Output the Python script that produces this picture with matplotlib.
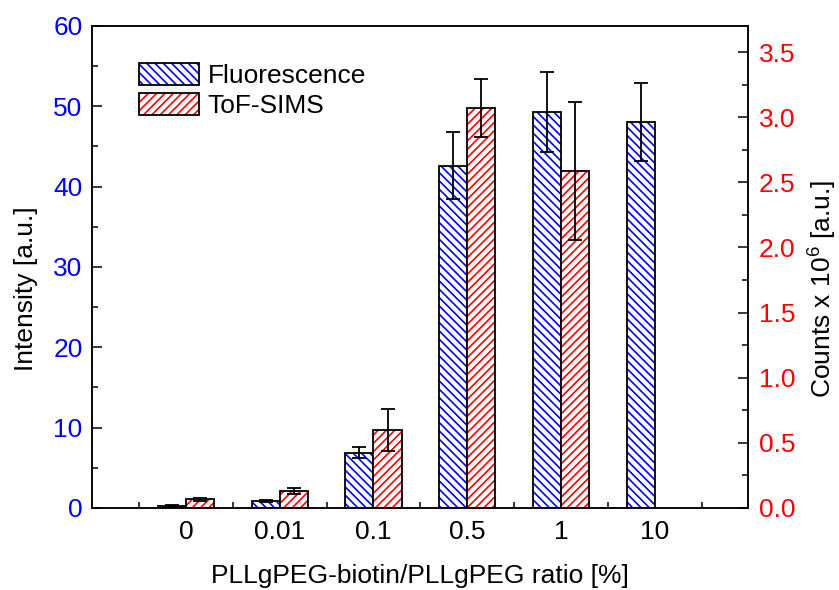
import matplotlib
matplotlib.use("Agg")
import matplotlib.pyplot as plt
import numpy as np
from matplotlib.patches import Patch
from matplotlib.legend_handler import HandlerTuple

plt.rcParams['font.family'] = ['Liberation Sans', 'DejaVu Sans']
plt.rcParams['hatch.linewidth'] = 1.2
plt.rcParams['mathtext.fontset'] = 'custom'
plt.rcParams['mathtext.rm'] = 'Liberation Sans'

categories = ['0', '0.01', '0.1', '0.5', '1', '10']
fluor = [0.3, 0.85, 6.9, 42.6, 49.3, 48.1]
fluor_err = [0.1, 0.1, 0.67, 4.2, 4.95, 4.85]
tof = [0.067, 0.128, 0.599, 3.07, 2.59, np.nan]
tof_err = [0.01, 0.023, 0.16, 0.225, 0.53, np.nan]

FS = 19

fig = plt.figure(figsize=(8.39, 5.90), dpi=100)
ax1 = fig.add_axes([0.110, 0.139, 0.782, 0.817])
ax2 = ax1.twinx()

x = np.arange(1, len(categories) + 1)
w = 0.3
blue = '#0000ff'
red = '#ff0000'

# Fluorescence bars (left axis)
ax1.bar(x - w / 2, fluor, width=w, color='white', edgecolor=blue, hatch='\\\\\\\\', linewidth=0)
ax1.bar(x - w / 2, fluor, width=w, fill=False, edgecolor='black', linewidth=1.3)
ax1.errorbar(x - w / 2, fluor, yerr=fluor_err, fmt='none', ecolor='black',
             elinewidth=1.3, capsize=5, capthick=1.3)

# ToF-SIMS bars (right axis)
ax2.bar(x + w / 2, tof, width=w, color='white', edgecolor=red, hatch='////', linewidth=0)
ax2.bar(x + w / 2, tof, width=w, fill=False, edgecolor='black', linewidth=1.3)
ax2.errorbar(x + w / 2, tof, yerr=tof_err, fmt='none', ecolor='black',
             elinewidth=1.3, capsize=5, capthick=1.3)

ax1.set_xlim(0, 7)
ax1.set_ylim(0, 60)
ax2.set_ylim(0, 3.7)

ax1.set_xticks(x)
ax1.set_xticklabels(categories)
ax1.set_xticks(np.arange(0.5, 7, 1), minor=True)
ax1.tick_params(axis='x', which='major', length=0, pad=9, labelsize=FS, colors='black')
ax1.tick_params(axis='x', which='minor', direction='in', length=4.3, width=1.1, top=False)

ax1.set_yticks(np.arange(0, 61, 10))
ax1.set_yticks(np.arange(5, 60, 10), minor=True)
ax1.tick_params(axis='y', which='major', direction='in', length=7.2, width=1.1, labelsize=FS,
                labelcolor=blue, pad=7)
ax1.tick_params(axis='y', which='minor', direction='in', length=4.3, width=1.1)

ax2.set_yticks(np.arange(0, 3.51, 0.5))
ax2.set_yticklabels([f'{v:.1f}' for v in np.arange(0, 3.51, 0.5)])
ax2.set_yticks(np.arange(0.25, 3.7, 0.5), minor=True)
ax2.tick_params(axis='y', which='major', direction='in', length=7.2, width=1.1, labelsize=FS,
                labelcolor=red, pad=7.5)
ax2.tick_params(axis='y', which='minor', direction='in', length=4.3, width=1.1)

for ax in (ax1, ax2):
    for s in ax.spines.values():
        s.set_linewidth(1.1)

ax1.set_ylabel('Intensity [a.u.]', fontsize=FS)
ax2.set_ylabel('Counts x 10$^{6}$ [a.u.]', fontsize=FS)
ax1.set_xlabel('PLLgPEG-biotin/PLLgPEG ratio [%]', fontsize=FS, labelpad=14)
ax1.yaxis.set_label_coords(-0.083, 0.454)
ax2.yaxis.set_label_coords(1.086, 0.454)

handles = [
    (Patch(facecolor='white', edgecolor=blue, hatch='\\\\\\\\', linewidth=0),
     Patch(fill=False, edgecolor='black', linewidth=1.3)),
    (Patch(facecolor='white', edgecolor=red, hatch='////', linewidth=0),
     Patch(fill=False, edgecolor='black', linewidth=1.3)),
]
ax2.legend(handles, ['Fluorescence', 'ToF-SIMS'], loc='upper left',
           bbox_to_anchor=(0.071, 0.923), borderaxespad=0, borderpad=0, frameon=False,
           fontsize=FS, handlelength=2.27, handleheight=0.9, handletextpad=0.34,
           labelspacing=0.2, handler_map={tuple: HandlerTuple(ndivide=1, pad=0)})

fig.savefig('out.png', dpi=100)
